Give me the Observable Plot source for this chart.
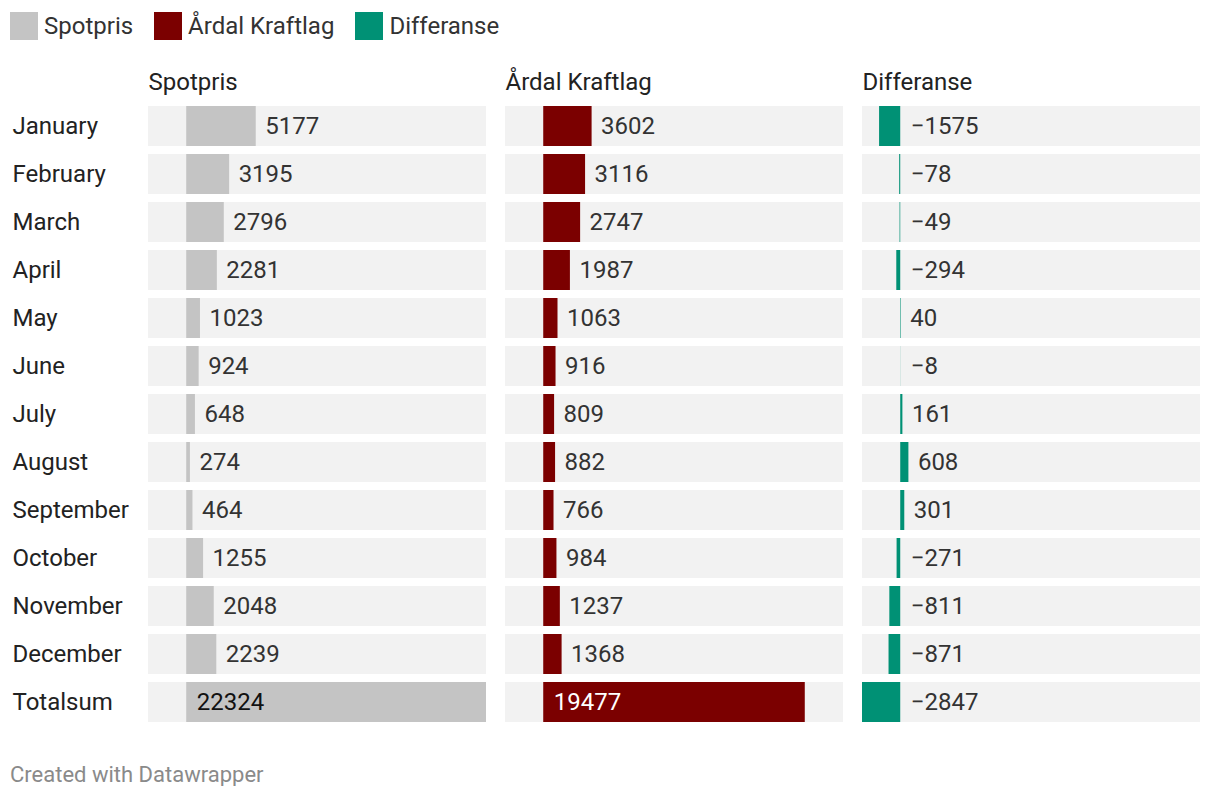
<!DOCTYPE html>
<html>
<head>
<meta charset="utf-8">
<script src="https://cdn.jsdelivr.net/npm/d3@7"></script>
<script src="https://cdn.jsdelivr.net/npm/@observablehq/plot@0.6"></script>
<style>
  body { margin: 0; background: #fff; font-family: Roboto, "Noto Sans", sans-serif; }
  #legend { height: 50px; box-sizing: border-box; padding: 12px 0 0 10px; display: flex; align-items: flex-start; }
  .item { display: flex; align-items: center; margin-right: 21px; font-size: 24px; color: #333; height: 28px; }
  .sw { width: 28px; height: 28px; margin-right: 6px; display: inline-block; }
  #caption { padding-left: 10px; margin-top: 18px; font-size: 22px; line-height: 22px; color: #8a8a8a; }
  svg { display: block; }
</style>
</head>
<body>
<div id="legend"></div>
<div id="chart"></div>
<div id="caption">Created with Datawrapper</div>
<script>
const categories = ["January","February","March","April","May","June","July","August","September","October","November","December","Totalsum"];
const spotpris = [5177,3195,2796,2281,1023,924,648,274,464,1255,2048,2239,22324];
const ardal = [3602,3116,2747,1987,1063,916,809,882,766,984,1237,1368,19477];
const differanse = [-1575,-78,-49,-294,40,-8,161,608,301,-271,-811,-871,-2847];
const seriesNames = ["Spotpris","Årdal Kraftlag","Differanse"];
const colors = ["#c4c4c4","#7b0000","#009175"];

const seriesValues = [spotpris, ardal, differanse];
const rows = seriesNames.flatMap((s, i) => categories.map((c, j) => ({series: s, category: c, value: seriesValues[i][j]})));
const xmin = d3.min(rows, d => d.value);
const xmax = d3.max(rows, d => d.value);
const fmt = d3.format("d");
const isInside = d => d.category === "Totalsum" && d.value > 0;

// legend
const legend = document.getElementById("legend");
seriesNames.forEach((s, i) => {
  const it = document.createElement("div");
  it.className = "item";
  it.innerHTML = `<span class="sw" style="background:${colors[i]}"></span><span>${s}</span>`;
  legend.appendChild(it);
});

const chart = Plot.plot({
  width: 1220,
  height: 696,
  marginLeft: 148,
  marginRight: 20,
  marginTop: 52,
  marginBottom: 20,
  style: {fontFamily: "Roboto, 'Noto Sans', sans-serif", fontSize: "24px", background: "#fff"},
  fx: {domain: seriesNames, padding: 19 / 357, axis: null},
  x: {domain: [xmin, xmax], axis: null},
  y: {domain: categories, paddingInner: 1 / 6, paddingOuter: 1 / 12, axis: null},
  color: {domain: seriesNames, range: colors},
  marks: [
    Plot.barX(rows, {fx: "series", y: "category", x1: () => xmin, x2: () => xmax, fill: "#f2f2f2"}),
    Plot.barX(rows, {fx: "series", y: "category", x: "value", fill: "series"}),
    Plot.text(rows.filter(d => !isInside(d) && d.value > 0), {
      fx: "series", y: "category", x: "value", text: d => fmt(d.value),
      textAnchor: "start", dx: 9, fill: "#333"
    }),
    Plot.text(rows.filter(d => !isInside(d) && d.value <= 0), {
      fx: "series", y: "category", x: () => 0, text: d => fmt(d.value),
      textAnchor: "start", dx: 10, fill: "#333"
    }),
    Plot.text(rows.filter(d => isInside(d)), {
      fx: "series", y: "category", x: () => 0, text: d => fmt(d.value),
      textAnchor: "start", dx: 10, fill: d => d.series === "Spotpris" ? "#111" : "#fff"
    }),
    Plot.text(seriesNames, {fx: d => d, frameAnchor: "top-left", lineAnchor: "middle", dy: -20, text: d => d, fill: "#222"}),
    Plot.text(categories, {
      fx: () => seriesNames[0], y: d => d, x: () => xmin, dx: -136,
      textAnchor: "start", text: d => d, fill: "#222"
    })
  ]
});
document.getElementById("chart").appendChild(chart);
</script>
</body>
</html>
